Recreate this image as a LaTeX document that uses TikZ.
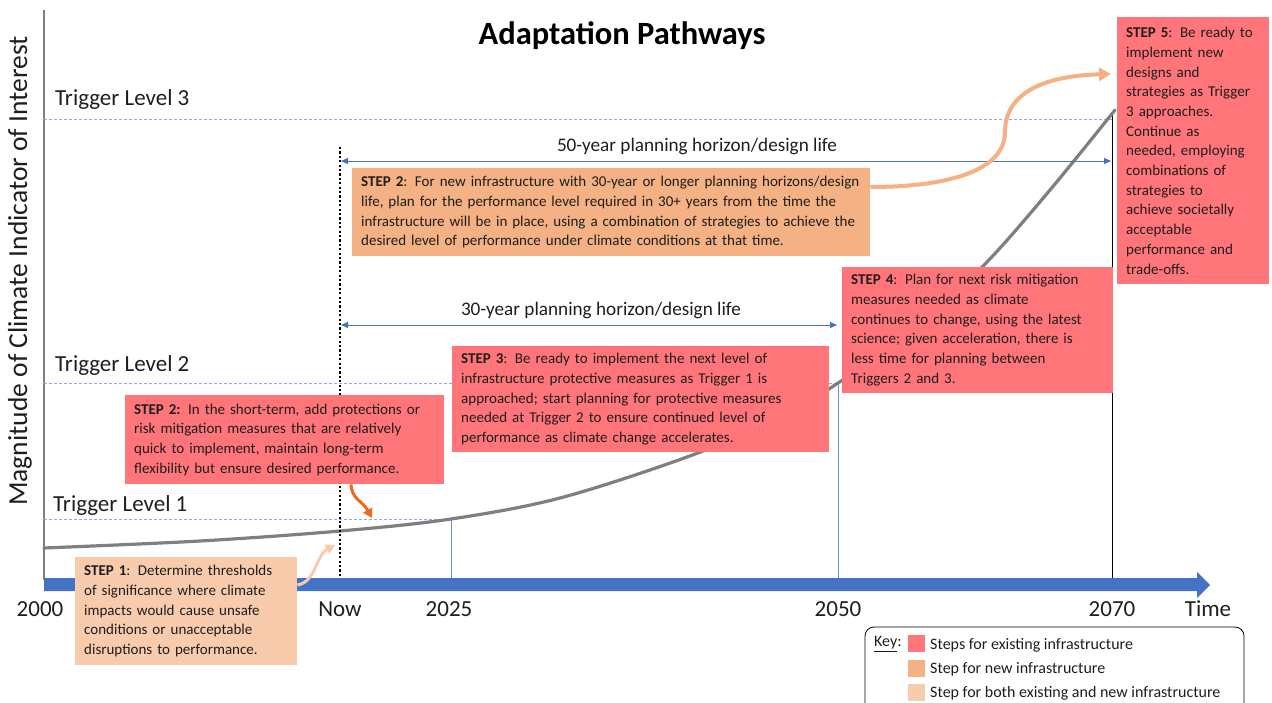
\documentclass[tikz,border=0pt]{standalone}
\usepackage{fontspec}
\setmainfont{Carlito}
\usetikzlibrary{arrows.meta}
\definecolor{stepred}{HTML}{FF7579}
\definecolor{steporange}{HTML}{F4B183}
\definecolor{steppeach}{HTML}{F8CBAD}
\definecolor{axisblue}{HTML}{4472C4}
\definecolor{trigblue}{HTML}{8FAADC}
\definecolor{curvegray}{HTML}{7F7F7F}
\definecolor{darkorange}{HTML}{EA6A1E}
\definecolor{txt}{HTML}{1E1E1E}
\tikzset{
  stepbox/.style={rectangle, anchor=north west, inner xsep=9pt, inner ysep=3pt, align=left,
    font=\fontsize{15}{19.7}\selectfont, text=txt},
  lbl/.style={font=\fontsize{23}{26}\selectfont, text=txt, inner sep=0pt},
  trig/.style={trigblue, dashed, line width=0.8pt, dash pattern=on 3pt off 2pt},
  horiz/.style={line width=0.9pt, draw={rgb,255:red,80;green,120;blue,150}, {Triangle[length=7pt,width=6pt,fill=axisblue,color=axisblue]}-{Triangle[length=7pt,width=6pt,fill=axisblue,color=axisblue]}},
  plab/.style={font=\fontsize{19.2}{22}\selectfont, text=txt, inner sep=0pt},
  keytxt/.style={font=\fontsize{16}{18}\selectfont, text=txt, anchor=west, inner sep=0pt},
}
\begin{document}
\begin{tikzpicture}[x=1pt,y=-1pt]
\useasboundingbox (0,0) rectangle (1272,703);
\begin{scope}
\clip (0,0) rectangle (1272,703);
% title
\node[font=\fontsize{32.5}{36}\selectfont\bfseries, inner sep=0pt] (title) at (622,36) {Adaptation Pathways};
% y axis
\coordinate (ytop) at (44,10);
\coordinate (ybot) at (44,580);
\draw[curvegray, line width=1.3pt] (ytop) -- (ybot);
\node[font=\fontsize{27.5}{30}\selectfont, text=txt, inner sep=0pt, rotate=90] (ylab) at (20,271) {Magnitude of Climate Indicator of Interest};
% trigger levels
\node[lbl, anchor=west] (t3) at (55,99) {Trigger Level 3};
\node[lbl, anchor=west] (t2) at (55,365) {Trigger Level 2};
\node[lbl, anchor=west] (t1) at (53,505) {Trigger Level 1};
\coordinate (t3a) at (44,119); \coordinate (t3b) at (1112,119);
\coordinate (t2a) at (44,383); \coordinate (t2b) at (838,383);
\coordinate (t1a) at (44,519); \coordinate (t1b) at (451,519);
\draw[trig] (t3a) -- (t3b);
\draw[trig] (t2a) -- (t2b);
\draw[trig] (t1a) -- (t1b);
% vertical markers
\coordinate (v25t) at (451,519); \coordinate (v25b) at (451,579);
\coordinate (v50t) at (838,383); \coordinate (v50b) at (838,579);
\coordinate (v70t) at (1112,112); \coordinate (v70b) at (1112,579);
\draw[axisblue!80, line width=0.8pt] (v25t) -- (v25b);
\draw[axisblue!80, line width=0.8pt] (v50t) -- (v50b);
\draw[black, line width=0.9pt] (v70t) -- (v70b);
% curve
\draw[curvegray, line width=3.2pt, line cap=round] plot[smooth, tension=0.55] coordinates {(44,548) (200,541) (340,531) (451,519) (560,498) (687,457) (780,418) (838,383) (920,325) (987,262) (1050,190) (1115,110)};
% time axis
\fill[axisblue] (44,578) -- (1197,578) -- (1197,572) -- (1210,585) -- (1197,598) -- (1197,591) -- (44,591) -- cycle;
% now line
\coordinate (nowt) at (340,147); \coordinate (nowb) at (340,578);
\draw[black, line width=2.6pt, dash pattern=on 2.2pt off 2.2pt] (nowt) -- (nowb);
% planning horizons
\coordinate (h50a) at (341,161); \coordinate (h50b) at (1111,161);
\coordinate (h30a) at (341,325); \coordinate (h30b) at (837,325);
\draw[horiz] (h50a) -- (h50b);
\draw[horiz] (h30a) -- (h30b);
\node[plab] (p50) at (697,146) {50-year planning horizon/design life};
\node[plab] (p30) at (601,310) {30-year planning horizon/design life};
% year labels
\node[lbl] (y2000) at (40,609) {2000};
\node[lbl] (ynow) at (340,609) {Now};
\node[lbl] (y2025) at (449,609) {2025};
\node[lbl] (y2050) at (838,609) {2050};
\node[lbl] (y2070) at (1112,609) {2070};
\node[lbl] (ytime) at (1208,609) {Time};
% boxes
\node[stepbox, fill=steporange, text width=500pt, minimum height=88pt] (s2new) at (352,168) {\textbf{STEP 2}: For new infrastructure with 30-year or longer planning horizons/design\\life, plan for the performance level required in 30+ years from the time the\\infrastructure will be in place, using a combination of strategies to achieve the\\desired level of performance under climate conditions at that time.};
\node[stepbox, fill=stepred, text width=301pt, minimum height=89pt] (s2old) at (125,395) {\textbf{STEP 2:} In the short-term, add protections or\\risk mitigation measures that are relatively\\quick to implement, maintain long-term\\flexibility but ensure desired performance.};
\node[stepbox, fill=stepred, text width=359pt, minimum height=106pt] (s3) at (452,346) {\textbf{STEP 3}: Be ready to implement the next level of\\infrastructure protective measures as Trigger 1 is\\approached; start planning for protective measures\\needed at Trigger 2 to ensure continued level of\\performance as climate change accelerates.};
\node[stepbox, fill=stepred, text width=253pt, minimum height=126pt] (s4) at (842,267) {\textbf{STEP 4}: Plan for next risk mitigation\\measures needed as climate\\continues to change, using the latest\\science; given acceleration, there is\\less time for planning between\\Triggers 2 and 3.};
\node[stepbox, fill=stepred, text width=134pt, minimum height=267pt] (s5) at (1117,17) {\textbf{STEP 5}: Be ready to\\implement new\\designs and\\strategies as Trigger\\3 approaches.\\Continue as\\needed, employing\\combinations of\\strategies to\\achieve societally\\acceptable\\performance and\\trade-offs.};
\node[stepbox, fill=steppeach, text width=204pt, minimum height=108pt] (s1) at (75,557) {\textbf{STEP 1}: Determine thresholds\\of significance where climate\\impacts would cause unsafe\\conditions or unacceptable\\disruptions to performance.};
% step arrows
\coordinate (a5tip) at (1111,74);
\draw[steporange, line width=4pt, -{Triangle[length=12pt,width=13pt]}] (s2new.east |- 0,187) .. controls (950,187) and (1005,170) .. (1005,132) .. controls (1005,95) and (1040,76) .. (a5tip);
\coordinate (a2tip) at (372,518);
\draw[darkorange, line width=3pt, -{Triangle[length=9pt,width=10pt]}] (s2old.south -| 351,0) .. controls (352,500) and (362,500) .. (a2tip);
\coordinate (a1tip) at (335,545);
\draw[steppeach, line width=3pt, -{Triangle[length=9pt,width=10pt]}] (s1.east |- 0,585) .. controls (316,582) and (316,555) .. (a1tip);
% key
\draw[black, line width=0.8pt, rounded corners=9pt] (865,627) rectangle (1244,712);
\node[keytxt] (key) at (874,644) {\underline{Key}:};
\fill[stepred] (908,635) rectangle (925,652);
\fill[steporange] (908,660) rectangle (925,677);
\fill[steppeach] (908,684) rectangle (925,701);
\node[keytxt] (k1) at (930,645) {Steps for existing infrastructure};
\node[keytxt] (k2) at (930,669) {Step for new infrastructure};
\node[keytxt] (k3) at (930,693) {Step for both existing and new infrastructure};
\end{scope}
\end{tikzpicture}
\end{document}
